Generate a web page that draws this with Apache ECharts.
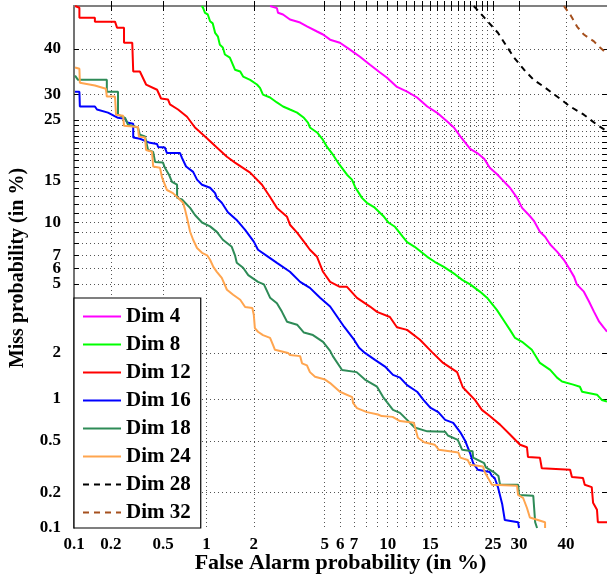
<!DOCTYPE html>
<html>
<head>
<meta charset="utf-8">
<script src="https://cdn.jsdelivr.net/npm/echarts@6/dist/echarts.min.js"></script>
<style>
  html, body { margin: 0; padding: 0; background: #fff; }
  #det { width: 607px; height: 577px; }
</style>
</head>
<body>
<div id="det"></div>
<script>
// DET curves: [false alarm %, miss %]
var dim4 = [[2.50,50.0],[2.74,49.5],[2.78,48.4],[2.97,48.0],[3.25,46.8],[3.70,46.1],[4.03,45.2],[4.56,44.0],[4.90,43.3],[5.33,42.1],[5.97,41.4],[6.69,39.8],[7.47,38.2],[8.32,36.4],[9.24,34.7],[9.9,33.6],[10.97,31.6],[12.1,30.6],[13.3,29.4],[14.6,27.6],[15.9,26.4],[17.4,24.7],[18.4,23.6],[19.4,22.0],[21.0,19.9],[22.2,19.2],[23.4,18.3],[24.4,16.9],[25.7,16.0],[26.7,15.2],[28.2,14.1],[29.6,12.8],[30.6,11.6],[32.0,10.8],[33.0,10.2],[34.3,9.07],[35.4,8.6],[36.5,7.9],[38.0,7.3],[39.5,6.65],[40.6,6.06],[41.8,5.44],[42.4,4.97],[44.0,4.54],[45.2,4.00],[46.3,3.52],[47.5,3.08],[48.6,2.84],[49.3,2.69]];
var dim8 = [[0.93,50.0],[0.95,49.5],[0.977,48.4],[1.02,48.0],[1.056,46.4],[1.1,45.9],[1.14,43.7],[1.19,42.8],[1.225,40.9],[1.28,40.3],[1.32,38.7],[1.42,38.0],[1.53,35.3],[1.65,34.9],[1.72,33.8],[1.90,33.1],[2.09,32.1],[2.18,31.4],[2.27,30.0],[2.50,29.4],[2.74,28.4],[2.97,27.6],[3.25,27.0],[3.56,26.4],[3.88,25.4],[4.08,24.5],[4.18,23.6],[4.56,22.7],[4.90,21.4],[5.14,20.2],[5.52,18.9],[5.84,17.7],[6.47,15.9],[6.84,15.2],[7.08,14.2],[7.63,12.8],[8.05,12.2],[8.68,11.7],[9.63,10.6],[10.1,9.97],[10.75,9.56],[11.6,8.6],[12.1,8.1],[13.0,7.7],[14.6,6.88],[15.6,6.5],[16.9,6.12],[18.6,5.6],[19.7,5.25],[21.0,4.97],[22.7,4.53],[23.9,4.21],[25.7,3.60],[27.2,3.07],[28.2,2.76],[29.2,2.47],[30.6,2.34],[32.6,2.09],[34.3,1.73],[36.5,1.56],[38.0,1.39],[39.1,1.31],[41.6,1.25],[43.1,1.21],[43.6,1.12],[47.0,1.07],[48.1,0.985],[49.3,0.96]];
var dim12 = [[0.102,50.0],[0.111,49.6],[0.111,47.2],[0.149,47.2],[0.149,46.3],[0.216,46.3],[0.224,44.9],[0.254,44.9],[0.254,41.4],[0.294,41.4],[0.299,34.9],[0.336,34.9],[0.374,32.1],[0.451,31.0],[0.482,29.2],[0.541,29.0],[0.559,28.0],[0.638,27.0],[0.737,25.6],[0.836,23.6],[0.977,22.0],[1.17,20.1],[1.36,18.6],[1.53,17.7],[1.90,16.2],[2.24,14.5],[2.50,12.9],[2.74,11.6],[3.13,10.6],[3.25,9.77],[3.56,8.98],[3.88,8.15],[4.18,7.45],[4.56,6.88],[4.90,5.78],[5.33,5.12],[5.97,4.82],[6.47,4.82],[7.23,4.20],[8.32,3.76],[8.96,3.51],[10.22,3.28],[10.96,2.86],[12.1,2.76],[13.66,2.41],[15.2,2.03],[16.8,1.73],[18.9,1.51],[19.8,1.20],[21.8,0.985],[23.0,0.84],[24.4,0.76],[26.3,0.66],[28.2,0.56],[30.2,0.47],[31.6,0.45],[31.8,0.38],[34.3,0.375],[34.7,0.31],[40.9,0.302],[41.3,0.265],[43.8,0.26],[44.2,0.23],[45.8,0.22],[46.1,0.164],[47.0,0.143],[47.2,0.112],[49.3,0.112]];
var dim16 = [[0.102,30.6],[0.111,30.6],[0.112,27.6],[0.149,27.6],[0.155,27.0],[0.190,26.4],[0.228,25.4],[0.259,25.2],[0.269,24.5],[0.299,24.3],[0.299,21.8],[0.336,21.6],[0.40,20.9],[0.451,20.7],[0.459,20.2],[0.514,20.1],[0.532,19.2],[0.659,19.2],[0.681,18.4],[0.726,17.1],[0.812,16.3],[0.863,15.2],[0.933,14.5],[1.056,14.1],[1.14,13.4],[1.17,12.8],[1.26,12.2],[1.38,11.1],[1.58,10.2],[1.77,9.26],[2.00,8.15],[2.12,7.45],[2.44,6.88],[2.74,6.42],[3.25,5.78],[3.70,5.12],[4.18,4.76],[4.73,4.21],[5.33,3.76],[5.8,3.28],[6.26,2.88],[7.0,2.41],[7.4,2.15],[7.88,2.00],[8.77,1.81],[9.73,1.64],[10.54,1.45],[11.3,1.39],[12.1,1.24],[13.3,1.12],[14.1,0.985],[15.0,0.87],[16.1,0.81],[17.1,0.714],[18.3,0.68],[19.4,0.58],[20.2,0.50],[21.0,0.405],[21.5,0.34],[22.3,0.302],[24.4,0.29],[24.8,0.27],[25.3,0.26],[25.9,0.22],[26.7,0.16],[27.2,0.117],[29.8,0.112],[30.0,0.100]];
var dim18 = [[0.102,34.0],[0.108,33.1],[0.186,33.1],[0.186,30.6],[0.228,30.6],[0.228,26.0],[0.259,25.4],[0.273,24.1],[0.325,23.6],[0.336,22.3],[0.367,22.0],[0.387,19.7],[0.422,19.4],[0.436,17.8],[0.498,17.7],[0.514,16.9],[0.55,15.9],[0.578,14.9],[0.628,14.5],[0.628,12.8],[0.68,12.6],[0.774,11.6],[0.836,10.8],[0.933,10.0],[1.056,9.6],[1.17,9.06],[1.28,8.32],[1.46,7.7],[1.53,7.0],[1.57,6.42],[1.72,6.06],[1.85,5.56],[2.12,5.12],[2.30,4.97],[2.50,4.21],[2.74,3.92],[2.93,3.51],[3.13,3.08],[3.56,2.96],[3.88,2.66],[4.34,2.57],[4.90,2.34],[5.33,2.06],[5.5,1.91],[6.12,1.56],[7.2,1.51],[7.88,1.35],[8.96,1.21],[9.54,1.03],[10.54,0.84],[11.3,0.80],[12.1,0.714],[13.0,0.63],[14.6,0.59],[17.1,0.585],[17.5,0.55],[19.0,0.51],[19.7,0.43],[21.4,0.42],[21.5,0.375],[23.4,0.34],[23.7,0.315],[25.1,0.29],[26.0,0.27],[26.3,0.23],[29.8,0.23],[30.0,0.19],[32.9,0.187],[33.3,0.112],[33.7,0.100]];
var dim24 = [[0.102,35.8],[0.111,35.5],[0.112,32.5],[0.149,31.9],[0.183,31.2],[0.186,29.6],[0.216,29.6],[0.22,26.0],[0.25,25.8],[0.254,23.9],[0.325,23.7],[0.33,22.0],[0.367,21.8],[0.374,19.7],[0.414,19.4],[0.422,17.1],[0.474,16.9],[0.49,15.5],[0.532,13.8],[0.587,13.4],[0.638,12.8],[0.692,12.2],[0.714,11.4],[0.737,10.5],[0.774,9.07],[0.812,8.32],[0.863,7.6],[0.933,7.2],[1.01,7.0],[1.056,6.65],[1.11,6.12],[1.17,5.78],[1.26,5.37],[1.36,4.65],[1.49,4.37],[1.65,4.10],[1.77,3.74],[1.96,3.69],[2.0,3.38],[2.03,2.83],[2.12,2.69],[2.27,2.57],[2.50,2.47],[2.60,2.24],[2.67,2.09],[3.17,2.0],[3.25,1.94],[3.70,1.91],[3.79,1.72],[4.03,1.67],[4.18,1.51],[4.45,1.41],[5.02,1.35],[5.33,1.28],[5.97,1.12],[6.86,1.03],[6.92,0.94],[7.23,0.865],[8.05,0.81],[9.05,0.78],[9.4,0.76],[10.5,0.75],[11.3,0.70],[12.9,0.68],[13.4,0.53],[14.2,0.49],[15.6,0.47],[16.2,0.43],[19.1,0.41],[19.4,0.375],[20.6,0.36],[21.0,0.33],[23.2,0.32],[23.5,0.29],[24.1,0.26],[24.8,0.23],[29.6,0.225],[29.8,0.19],[30.8,0.18],[31.6,0.148],[32.2,0.123],[35.4,0.112],[35.4,0.100]];
var dim28 = [[21.6,50.0],[23.4,47.3],[25.9,43.7],[27.6,40.5],[29.0,38.0],[31.0,35.3],[33.0,33.1],[35.2,31.6],[38.0,29.6],[40.9,27.6],[44.0,26.0],[47.0,24.1],[49.3,22.9]];
var dim32 = [[39.5,50.0],[40.9,48.0],[42.5,45.1],[44.0,43.3],[46.3,41.7],[47.7,40.3],[49.3,38.9]];

var seriesNames = ['Dim 4', 'Dim 8', 'Dim 12', 'Dim 16', 'Dim 18', 'Dim 24', 'Dim 28', 'Dim 32'];
var seriesColors = ['#ff00ff', '#00ff00', '#ff0000', '#0000ff', '#2e8b57', '#ffa54f', '#000000', '#a5501e'];
var seriesDashed = [false, false, false, false, false, false, true, true];

var labelPcts = [0.1, 0.2, 0.5, 1, 2, 5, 6, 7, 10, 15, 25, 30, 40];
var gridPcts = [0.2, 0.5, 1, 2, 5, 6, 7, 8, 9, 10, 11, 12, 13, 14, 15, 16, 17, 18, 19, 20, 21, 22, 23, 24, 25, 30, 40];

// inverse normal cdf (Acklam), input in percent
function probit(pct) {
    var p = pct / 100;
    var a = [-3.969683028665376e+01, 2.209460984245205e+02, -2.759285104469687e+02, 1.383577518672690e+02, -3.066479806614716e+01, 2.506628277459239e+00];
    var b = [-5.447609879822406e+01, 1.615858368580409e+02, -1.556989798598866e+02, 6.680131188771972e+01, -1.328068155288572e+01];
    var c = [-7.784894002430293e-03, -3.223964580411365e-01, -2.400758277161838e+00, -2.549732539343734e+00, 4.374664141464968e+00, 2.938163982698783e+00];
    var d = [7.784695709041462e-03, 3.224671290700398e-01, 2.445134137142996e+00, 3.754408661907416e+00];
    var q, r;
    if (p < 0.02425) {
        q = Math.sqrt(-2 * Math.log(p));
        return (((((c[0]*q+c[1])*q+c[2])*q+c[3])*q+c[4])*q+c[5]) / ((((d[0]*q+d[1])*q+d[2])*q+d[3])*q+1);
    }
    if (p <= 1 - 0.02425) {
        q = p - 0.5; r = q * q;
        return (((((a[0]*r+a[1])*r+a[2])*r+a[3])*r+a[4])*r+a[5])*q / (((((b[0]*r+b[1])*r+b[2])*r+b[3])*r+b[4])*r+1);
    }
    q = Math.sqrt(-2 * Math.log(1 - p));
    return -(((((c[0]*q+c[1])*q+c[2])*q+c[3])*q+c[4])*q+c[5]) / ((((d[0]*q+d[1])*q+d[2])*q+d[3])*q+1);
}

function labelOf(v) {
    for (var i = 0; i < labelPcts.length; i++) {
        if (Math.abs(probit(labelPcts[i]) - v) < 1e-6) return String(labelPcts[i]);
    }
    return '';
}

var labelVals = labelPcts.map(probit);
var gridVals = gridPcts.map(probit);
var curves = [dim4, dim8, dim12, dim16, dim18, dim24, dim28, dim32];

var tickFont = { fontFamily: 'Liberation Serif', fontWeight: 'bold', fontSize: 17, color: '#000' };
var gridLine = { show: true, lineStyle: { color: '#555', width: 1, type: [1, 3] } };

var myChart = echarts.init(document.getElementById('det'));
var option = {
    animation: false,
    backgroundColor: '#fff',
    grid: { left: 74, right: 0, top: 6, bottom: 49, outerBoundsMode: 'none' },
    graphic: [{
        type: 'text',
        x: 18,
        y: 268,
        rotation: Math.PI / 2,
        style: {
            text: 'Miss probability (in %)',
            fill: '#000',
            font: 'bold 20px "Liberation Serif"',
            align: 'center',
            verticalAlign: 'middle'
        }
    }],
    legend: {
        orient: 'vertical',
        left: 74,
        top: 298,
        itemWidth: 38,
        itemHeight: 14,
        itemGap: 7,
        padding: [8, 10, 5, 8],
        borderColor: '#000',
        borderWidth: 1.2,
        backgroundColor: '#fff',
        itemStyle: { opacity: 0 },
        data: seriesNames,
        textStyle: { fontFamily: 'Liberation Serif', fontWeight: 'bold', fontSize: 21, color: '#000' }
    },
    xAxis: [{
        type: 'value',
        min: probit(0.1),
        max: probit(49.3),
        name: 'False Alarm probability (in %)',
        nameLocation: 'middle',
        nameGap: 24,
        nameMoveOverlap: false,
        nameTextStyle: { fontFamily: 'Liberation Serif', fontWeight: 'bold', fontSize: 22, color: '#000' },
        axisLine: { show: true, lineStyle: { color: '#808080', width: 2 } },
        axisTick: { show: true, inside: true, length: 5, customValues: gridVals, lineStyle: { color: '#000' } },
        axisLabel: Object.assign({ customValues: labelVals, margin: 8, formatter: labelOf }, tickFont),
        splitLine: gridLine
    }, {
        type: 'value',
        position: 'top',
        min: probit(0.1),
        max: probit(49.3),
        axisLine: { show: true, lineStyle: { color: '#808080', width: 2 } },
        axisTick: { show: true, inside: true, length: 5, customValues: gridVals, lineStyle: { color: '#000' } },
        axisLabel: { show: false },
        splitLine: { show: false }
    }],
    yAxis: [{
        type: 'value',
        min: probit(0.1),
        max: probit(50),
        axisLine: { show: true, lineStyle: { color: '#444', width: 1.5 } },
        axisTick: { show: true, inside: true, length: 5, customValues: gridVals, lineStyle: { color: '#000' } },
        axisLabel: Object.assign({ customValues: labelVals, margin: 13, formatter: labelOf }, tickFont),
        splitLine: gridLine
    }, {
        type: 'value',
        position: 'right',
        min: probit(0.1),
        max: probit(50),
        axisLine: { show: false },
        axisTick: { show: true, inside: true, length: 5, customValues: gridVals, lineStyle: { color: '#000' } },
        axisLabel: { show: false },
        splitLine: { show: false }
    }],
    series: curves.map(function (pts, i) {
        return {
            name: seriesNames[i],
            type: 'line',
            xAxisIndex: 0,
            yAxisIndex: 0,
            symbol: 'none',
            clip: true,
            color: seriesColors[i],
            lineStyle: { color: seriesColors[i], width: 2, type: seriesDashed[i] ? [6, 5] : 'solid' },
            data: pts.map(function (d) { return [probit(d[0]), probit(d[1])]; })
        };
    })
};
myChart.setOption(option);
</script>
</body>
</html>
